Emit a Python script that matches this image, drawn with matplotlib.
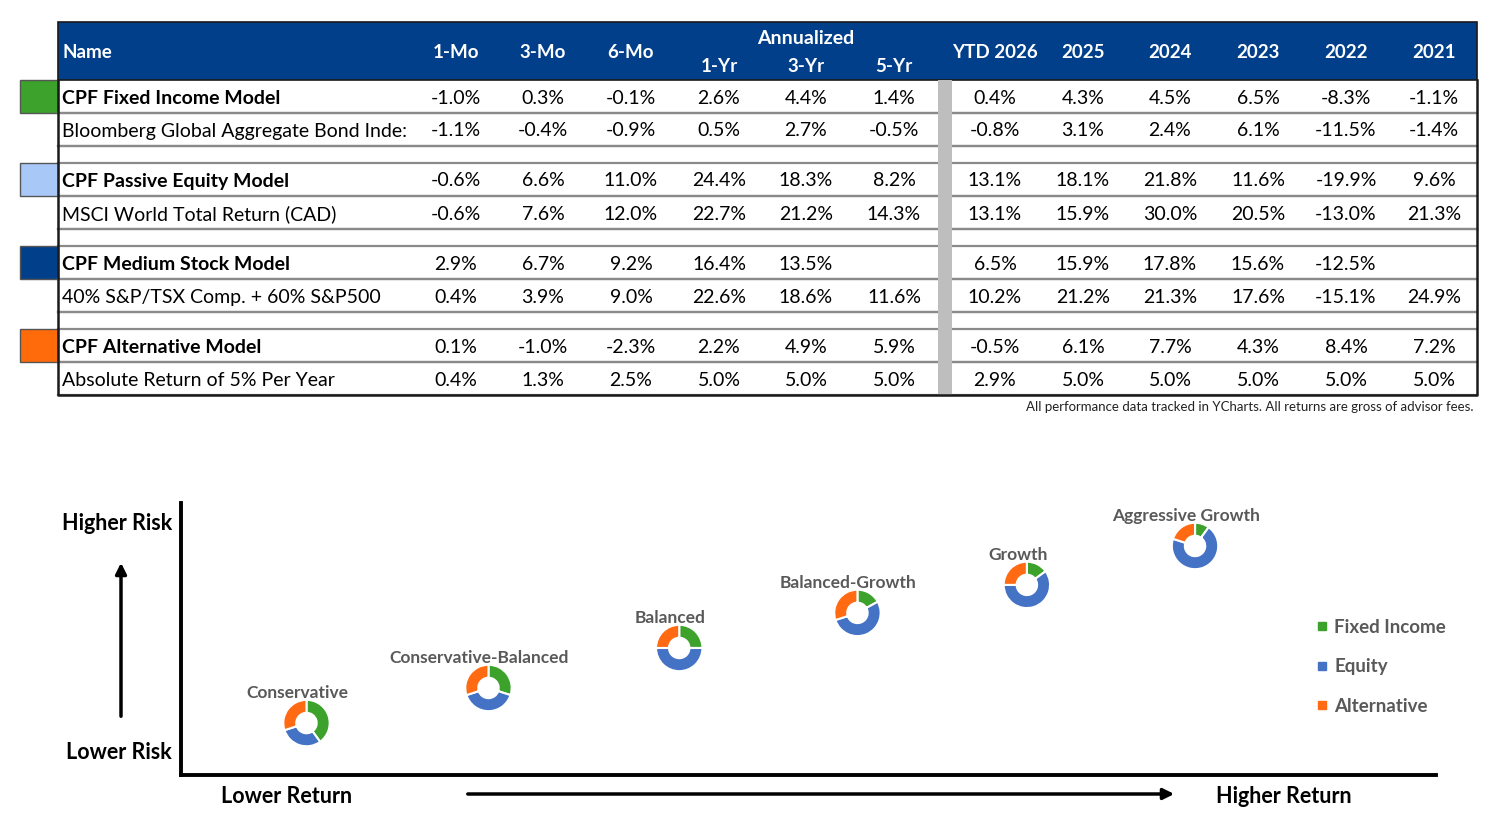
import numpy as np
import matplotlib.pyplot as plt
from matplotlib.patches import Rectangle
from matplotlib.lines import Line2D

plt.rcParams['font.family'] = ['Lato', 'DejaVu Sans']

# ---- table data ----
row_names = [
    "CPF Fixed Income Model",
    "Bloomberg Global Aggregate Bond Inde:",
    "CPF Passive Equity Model",
    "MSCI World Total Return (CAD)",
    "CPF Medium Stock Model",
    "40% S&P/TSX Comp. + 60% S&P500",
    "CPF Alternative Model",
    "Absolute Return of 5% Per Year",
]
is_model = [True, False, True, False, True, False, True, False]
model_colors = ["#3DA22C", "#A8C8F8", "#013F8A", "#FF6A0A"]

period_cols = ["1-Mo", "3-Mo", "6-Mo", "1-Yr", "3-Yr", "5-Yr"]
year_cols = ["YTD 2026", "2025", "2024", "2023", "2022", "2021"]

period_returns = [
    [-1.0, 0.3, -0.1, 2.6, 4.4, 1.4],
    [-1.1, -0.4, -0.9, 0.5, 2.7, -0.5],
    [-0.6, 6.6, 11.0, 24.4, 18.3, 8.2],
    [-0.6, 7.6, 12.0, 22.7, 21.2, 14.3],
    [2.9, 6.7, 9.2, 16.4, 13.5, None],
    [0.4, 3.9, 9.0, 22.6, 18.6, 11.6],
    [0.1, -1.0, -2.3, 2.2, 4.9, 5.9],
    [0.4, 1.3, 2.5, 5.0, 5.0, 5.0],
]
year_returns = [
    [0.4, 4.3, 4.5, 6.5, -8.3, -1.1],
    [-0.8, 3.1, 2.4, 6.1, -11.5, -1.4],
    [13.1, 18.1, 21.8, 11.6, -19.9, 9.6],
    [13.1, 15.9, 30.0, 20.5, -13.0, 21.3],
    [6.5, 15.9, 17.8, 15.6, -12.5, None],
    [10.2, 21.2, 21.3, 17.6, -15.1, 24.9],
    [-0.5, 6.1, 7.7, 4.3, 8.4, 7.2],
    [2.9, 5.0, 5.0, 5.0, 5.0, 5.0],
]
footnote = "All performance data tracked in YCharts. All returns are gross of advisor fees."

# ---- portfolio data (risk / return position, asset mix %) ----
portfolios = ["Conservative", "Conservative-Balanced", "Balanced",
              "Balanced-Growth", "Growth", "Aggressive Growth"]
return_score = [10.0, 24.5, 39.7, 53.9, 67.4, 80.8]
risk_score = [19.1, 32.0, 46.7, 59.6, 69.9, 84.2]
fixed_income = [40, 30, 25, 17, 15, 10]
equity = [30, 40, 50, 53, 60, 70]
alternative = [30, 30, 25, 30, 25, 20]
asset_names = ["Fixed Income", "Equity", "Alternative"]
asset_colors = ["#3DA22C", "#4472C4", "#FF6A13"]

W, H = 1502, 838
fig = plt.figure(figsize=(W / 100, H / 100), dpi=100)
ax = fig.add_axes([0, 0, 1, 1])
ax.set_xlim(0, W)
ax.set_ylim(H, 0)
ax.axis('off')

# table geometry
left, right = 58, 1477
head_top, head_bot = 22, 80
row_h, gap_h = 33, 17
name_x = 62
col_x = [456, 543, 631, 719, 806, 894, 995, 1083, 1170, 1258, 1346, 1434]
header_blue = "#013F8A"
line_gray = "#8A8A8A"

ax.add_patch(Rectangle((left, head_top), right - left, head_bot - head_top,
                       facecolor=header_blue, edgecolor="#1a1a1a", lw=1.2, zorder=2))
hkw = dict(color="white", fontsize=13.5, fontweight="bold", va="center", zorder=3)
ax.text(name_x, 53, "Name", ha="left", **hkw)
for i, c in enumerate(period_cols):
    if i < 3:
        ax.text(col_x[i], 53, c, ha="center", **hkw)
    else:
        ax.text(col_x[i], 67, c, ha="center", **hkw)
ax.text(col_x[4], 38, "Annualized", ha="center", **dict(hkw, fontsize=14))
for i, c in enumerate(year_cols):
    ax.text(col_x[6 + i], 53, c, ha="center", **hkw)

# rows
y = head_bot
row_tops = []
for r in range(len(row_names)):
    if r > 0 and r % 2 == 0:
        ax.plot([left, right], [y, y], color=line_gray, lw=1.6, zorder=2)
        y += gap_h
    row_tops.append(y)
    y += row_h
    ax.plot([left, right], [y, y], color=line_gray, lw=1.6, zorder=2)
table_bot = y

for r, name in enumerate(row_names):
    top = row_tops[r]
    if r > 0:
        ax.plot([left, right], [top, top], color=line_gray, lw=1.6, zorder=2)
    cy = top + row_h / 2 + 1.5
    w = "bold" if is_model[r] else "normal"
    ax.text(name_x, cy, name, ha="left", va="center", fontsize=14,
            fontweight=w, color="black", zorder=3)
    vals = period_returns[r] + year_returns[r]
    for c, v in enumerate(vals):
        if v is not None:
            ax.text(col_x[c], cy, f"{v:.1f}%", ha="center", va="center",
                    fontsize=14, color="black", zorder=3)
    if is_model[r]:
        ax.add_patch(Rectangle((20, top), left - 20, row_h,
                               facecolor=model_colors[r // 2], edgecolor="#555555",
                               lw=1.0, zorder=2))

# gray separator and outer border
ax.add_patch(Rectangle((938, head_bot), 14, table_bot - head_bot,
                       facecolor="#BEBEBE", edgecolor="none", zorder=2.5))
ax.plot([left, left, right, right], [head_bot, table_bot, table_bot, head_bot],
        color="#1a1a1a", lw=1.8, zorder=3)
ax.text(1474, 407, footnote, ha="right", va="center", fontsize=9.5, color="#222222")

# ---- risk / return diagram ----
bx0, bx1, by0, by1 = 181, 1436, 503, 775
ax2 = fig.add_axes([bx0 / W, 1 - by1 / H, (bx1 - bx0) / W, (by1 - by0) / H])
ax2.set_xlim(0, 100)
ax2.set_ylim(0, 100)
ax2.set_xticks([])
ax2.set_yticks([])
ax2.patch.set_alpha(0)
for s in ["top", "right"]:
    ax2.spines[s].set_visible(False)
for s in ["left", "bottom"]:
    ax2.spines[s].set_linewidth(2.8)
    ax2.spines[s].set_color("black")

fig.canvas.draw()
to_fig = fig.transFigure.inverted()
d = 58
for i, p in enumerate(portfolios):
    px, py = ax2.transData.transform((return_score[i], risk_score[i]))
    fx, fy = to_fig.transform((px - d / 2, py - d / 2))
    pax = fig.add_axes([fx, fy, d / W, d / H])
    pax.pie([fixed_income[i], equity[i], alternative[i]], colors=asset_colors,
            startangle=90, counterclock=False,
            wedgeprops=dict(width=0.56, edgecolor="white", linewidth=1.5))
    pax.set_aspect("equal")
    ax2.annotate(p, (return_score[i], risk_score[i]), xytext=(-9, 30),
                 textcoords="offset pixels", ha="center", va="center",
                 fontsize=12.5, color="#595959", fontweight="bold")

handles = [Line2D([], [], marker="s", ls="", color=c, markersize=6) for c in asset_colors]
fig.legend(handles, asset_names, loc="upper left", bbox_to_anchor=(1296 / W, 1 - 602 / H),
           frameon=False, handletextpad=0.15, labelspacing=1.2, handlelength=1.0,
           labelcolor="#595959", prop=dict(size=13.5, weight="bold"))

# axis captions and arrows
tkw = dict(fontsize=15.5, fontweight="bold", color="black", va="center")
ax.text(172, 523, "Higher Risk", ha="right", **tkw)
ax.text(172, 752, "Lower Risk", ha="right", **tkw)
ax.text(287, 796, "Lower Return", ha="center", **tkw)
ax.text(1284, 796, "Higher Return", ha="center", **tkw)
ax.annotate("", xy=(121, 560), xytext=(121, 719),
            arrowprops=dict(arrowstyle="-|>", lw=2.5, color="black", mutation_scale=16))
ax.annotate("", xy=(1177, 794), xytext=(465, 794),
            arrowprops=dict(arrowstyle="-|>", lw=2.5, color="black", mutation_scale=16))

fig.savefig("out.png", dpi=100)
